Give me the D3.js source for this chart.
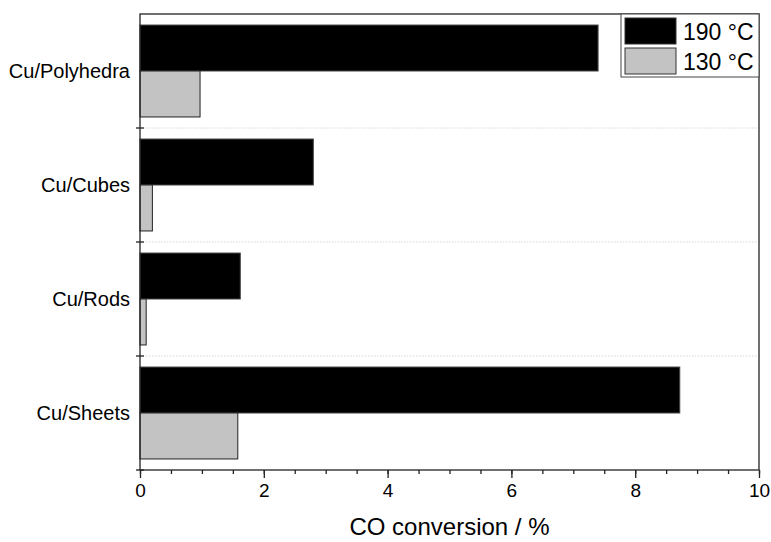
<!DOCTYPE html>
<html><head><meta charset="utf-8">
<script src="https://cdn.jsdelivr.net/npm/d3@7"></script>
<style>body{margin:0;background:#fff;} svg{display:block;} text{font-family:"Liberation Sans",Arial,sans-serif;fill:#000;}</style>
</head><body>
<script>
const categories = ["Cu/Polyhedra","Cu/Cubes","Cu/Rods","Cu/Sheets"];
const seriesNames = ["190 °C","130 °C"];
const values190 = [7.4, 2.8, 1.62, 8.72];
const values130 = [0.97, 0.2, 0.1, 1.58];
const xTicks = [0,2,4,6,8,10];
const xLabel = "CO conversion / %";

const W=771,H=542;
const m={left:140,right:12,top:14,bottom:72};
const svg=d3.select("body").append("svg").attr("width",W).attr("height",H);
const x=d3.scaleLinear().domain([0,10]).range([m.left,W-m.right]);
const y=d3.scaleBand().domain(categories).range([m.top,H-m.bottom]).paddingInner(0).paddingOuter(0);
const inner=d3.scaleBand().domain(seriesNames).range([0,y.bandwidth()]).paddingOuter(0.24).paddingInner(0);
const colors=["#000","#c3c3c3"];

// gridlines
svg.append("g").selectAll("line").data(categories.slice(1)).join("line")
 .attr("x1",m.left).attr("x2",W-m.right).attr("y1",d=>y(d)).attr("y2",d=>y(d))
 .attr("stroke","#d6d6d6").attr("stroke-width",1).attr("stroke-dasharray","1.5,1.5");

const series=[values190,values130];
series.forEach((vals,si)=>{
  svg.append("g").selectAll("rect").data(categories).join("rect")
   .attr("x",x(0)).attr("y",(d)=>y(d)+inner(seriesNames[si]))
   .attr("width",(d,i)=>x(vals[i])-x(0)).attr("height",inner.bandwidth())
   .attr("fill",colors[si]).attr("stroke",si===0?"#444":"#222").attr("stroke-width",1);
});

// frame
svg.append("rect").attr("x",m.left).attr("y",m.top).attr("width",W-m.right-m.left).attr("height",H-m.bottom-m.top)
 .attr("fill","none").attr("stroke","#222").attr("stroke-width",1.3);

// x axis
const xa=svg.append("g").attr("transform",`translate(0,${H-m.bottom})`);
xa.call(d3.axisBottom(x).tickValues(d3.range(0,10.01,0.5)).tickSize(4).tickFormat(""));
xa.call(g=>g.select(".domain").remove());
xa.selectAll("line").attr("stroke","#222").attr("stroke-width",1.3);
const xa2=svg.append("g").attr("transform",`translate(0,${H-m.bottom})`);
xa2.call(d3.axisBottom(x).tickValues(xTicks).tickSize(8).tickPadding(6).tickFormat(d3.format("d")));
xa2.call(g=>g.select(".domain").remove());
xa2.selectAll("line").attr("stroke","#222").attr("stroke-width",1.3);
xa2.selectAll("text").attr("font-size",19).attr("font-family","Liberation Sans, Arial, sans-serif").attr("fill","#000");

// y axis ticks at band boundaries
const bounds=categories.slice(1).map(c=>y(c)).concat([H-m.bottom]);
svg.append("g").selectAll("line").data(bounds).join("line")
 .attr("x1",m.left-4).attr("x2",m.left+4).attr("y1",d=>d).attr("y2",d=>d)
 .attr("stroke","#222").attr("stroke-width",1.3);
svg.append("g").selectAll("text").data(categories).join("text")
 .attr("x",m.left-10).attr("y",d=>y(d)+y.bandwidth()/2).attr("dy","0.35em")
 .attr("text-anchor","end").attr("font-size",20).text(d=>d);

svg.append("text").attr("x",(x(0)+x(10))/2).attr("y",535).attr("text-anchor","middle")
 .attr("font-size",24).text(xLabel);

// legend
const lg=svg.append("g");
const lx=621, ly=14, lw=W-m.right-lx, lh=63;
lg.append("rect").attr("x",lx).attr("y",ly).attr("width",lw).attr("height",lh).attr("fill","#fff").attr("stroke","#444").attr("stroke-width",1);
seriesNames.forEach((s,i)=>{
  lg.append("rect").attr("x",lx+4).attr("y",ly+4+i*30).attr("width",51).attr("height",26)
   .attr("fill",colors[i]).attr("stroke","#333").attr("stroke-width",1);
  lg.append("text").attr("x",lx+62).attr("y",ly+18+i*30).attr("dy","0.35em").attr("font-size",23).text(s);
});
</script>
</body></html>
